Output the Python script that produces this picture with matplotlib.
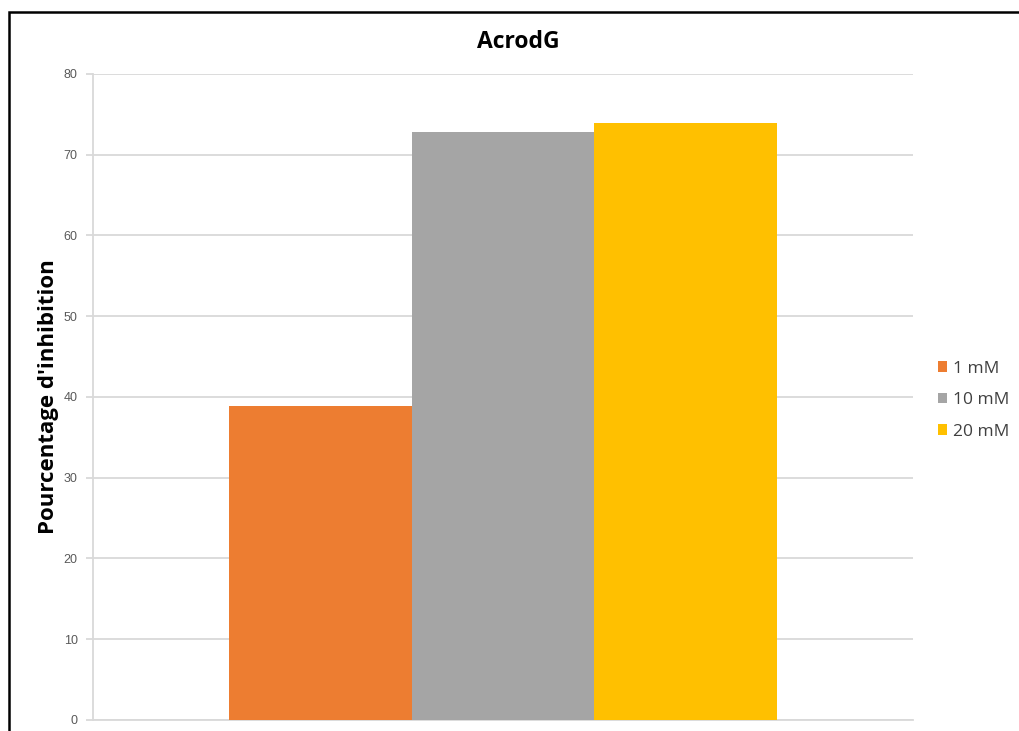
#!/usr/bin/env python3
# -*- coding: utf-8 -*-

import matplotlib
matplotlib.use("Agg")
import matplotlib.pyplot as plt
from matplotlib.patches import Rectangle
import numpy as np

# données
series_labels = ["1 mM", "10 mM", "20 mM"]
series_values = [38.9, 72.8, 73.9]
series_colors = ["#ED7D31", "#A5A5A5", "#FFC000"]
y_ticks = [0, 10, 20, 30, 40, 50, 60, 70, 80]

plt.rcParams["font.family"] = ["Open Sans", "DejaVu Sans"]

fig = plt.figure(figsize=(10.19, 7.31), dpi=100)
ax = fig.add_axes([0.0913, 0.01505, 0.8047, 0.88375])

width = 0.2225
offsets = (np.arange(len(series_values)) - 1) * width
for off, val, col, lab in zip(offsets, series_values, series_colors, series_labels):
    ax.bar(off, val, width=width, color=col, label=lab, zorder=3)

ax.set_xlim(-0.5, 0.5)
ax.set_ylim(0, 80)
ax.set_yticks(y_ticks)
ax.set_xticks([])
ax.grid(axis="y", color="#d9d9d9", linewidth=1.3, zorder=0)
for side in ["top", "right"]:
    ax.spines[side].set_visible(False)
for side in ["left", "bottom"]:
    ax.spines[side].set_color("#d9d9d9")
    ax.spines[side].set_linewidth(1.3)
ax.tick_params(axis="y", length=5, color="#d9d9d9", width=1.3,
               labelsize=9, labelcolor="#595959", pad=6)
for t in ax.get_yticklabels():
    t.set_fontfamily(["Liberation Sans", "DejaVu Sans"])

ax.set_ylabel("Pourcentage d'inhibition", fontsize=16, fontweight="bold")
ax.yaxis.set_label_coords(-0.041, 0.5)
fig.text(0.509, 0.942, "AcrodG", ha="center", va="center",
         fontsize=16.5, fontweight="bold")

ax.legend(loc="center left", bbox_to_anchor=(1.011, 0.495), frameon=False,
          fontsize=12.5, handlelength=0.55, handleheight=0.55, handletextpad=0.35,
          labelspacing=0.9, labelcolor="#404040")

# cadre noir autour du graphique
fig.patches.append(Rectangle((0.0085, -0.1), 1.2, 1.083, transform=fig.transFigure,
                             fill=False, edgecolor="black", linewidth=1.8))

fig.savefig("out.png", dpi=100)
